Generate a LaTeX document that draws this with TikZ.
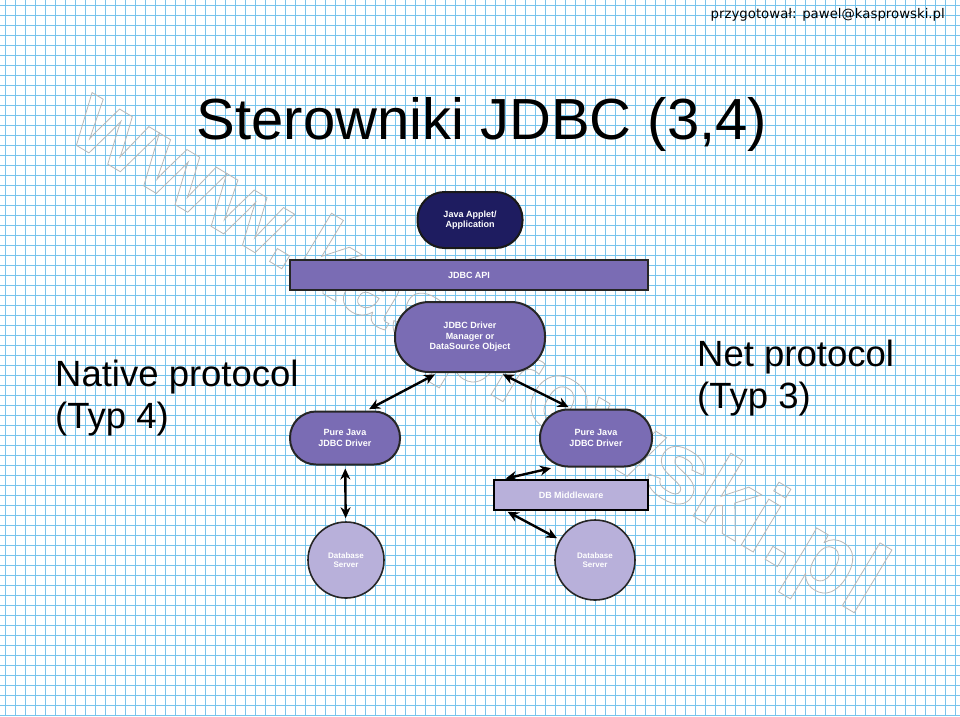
\documentclass[tikz,border=0pt]{standalone}
\usepackage{fontspec}
\setmainfont{Liberation Sans}
\newfontfamily\hdrfont{DejaVu Sans}
\usetikzlibrary{arrows.meta,positioning}

\definecolor{gridblue}{RGB}{120,196,236}
\definecolor{navyapp}{RGB}{30,28,96}
\definecolor{midpurple}{RGB}{122,108,180}
\definecolor{lightpurple}{RGB}{184,176,218}

\newcommand{\outlinetext}[1]{\special{pdf:literal direct 1 Tr 0.8 w}#1\special{pdf:literal direct 0 Tr}}

\begin{document}
\begin{tikzpicture}[x=1pt,y=-1pt,
 gridline/.style={draw=gridblue,line width=0.8pt},
 pill/.style={draw=black!85,line width=2pt,fill=midpurple,align=center,
              text=white!92,font=\fontsize{9}{10.5}\selectfont\bfseries,inner sep=2pt},
 bar/.style={draw=black!85,line width=2pt,fill=midpurple,text=white!92,
             font=\fontsize{9}{10.5}\selectfont\bfseries},
 dbserver/.style={circle,draw=black!85,line width=1.6pt,fill=lightpurple,align=center,
                  text=white!95,font=\fontsize{8}{9.5}\selectfont\bfseries,inner sep=0pt},
 dbl/.style={{Stealth[length=11pt,width=10pt]}-{Stealth[length=11pt,width=10pt]},line width=2.4pt,
             shorten <=3pt,shorten >=3pt},
 bigtext/.style={font=\fontsize{36.5}{42}\selectfont,align=left,inner sep=0pt}]
\useasboundingbox (0,0) rectangle (960,716);
\fill[white] (0,0) rectangle (960,716);
% squared paper
\foreach \gx in {5.5,15.5,...,955.5} \draw[gridline] (\gx,0) -- (\gx,716);
\foreach \gy in {5.5,15.5,...,715.5} \draw[gridline] (0,\gy) -- (960,\gy);
% watermark
\node[rotate=-31,text=black!28,font=\fontsize{101}{101}\selectfont\bfseries,inner sep=0pt]
  (watermark) at (476,355) {\outlinetext{www.kasprowski.pl}};
% headings
\node[anchor=base east,font=\hdrfont\fontsize{13.3}{15}\selectfont,inner sep=0pt]
  (author) at (945,18) {przygotował: pawel@kasprowski.pl};
\node[font=\fontsize{58}{64}\selectfont,inner sep=0pt] (title) at (482,124) {Sterowniki JDBC (3,4)};
\node[bigtext,anchor=north west] (type4) at (55,360) {Native protocol\\(Typ 4)};
\node[bigtext,anchor=north west] (type3) at (697,340) {Net protocol\\(Typ 3)};
% JDBC architecture
\node[pill,fill=navyapp,draw=black!90,minimum width=105pt,minimum height=56pt,rounded corners=27pt]
  (app) at (470,220) {Java Applet/\\Application};
\node[bar,minimum width=358pt,minimum height=30pt] (api) at (469,275) {JDBC API};
\node[pill,minimum width=150pt,minimum height=70pt,rounded corners=34pt]
  (manager) at (470,337) {JDBC Driver\\Manager or\\DataSource Object};
\node[pill,minimum width=110pt,minimum height=53pt,rounded corners=26pt]
  (leftdrv) at (345,438) {Pure Java\\JDBC Driver};
\node[pill,minimum width=112pt,minimum height=57pt,rounded corners=28pt]
  (rightdrv) at (596,438) {Pure Java\\JDBC Driver};
\node[bar,fill=lightpurple,draw=black,line width=2.5pt,minimum width=154pt,minimum height=30pt]
  (middleware) at (571,495) {DB Middleware};
\node[dbserver,minimum size=76pt] (leftsrv) at (346,560) {Database\\Server};
\node[dbserver,minimum size=80pt] (rightsrv) at (595,560) {Database\\Server};
\draw[dbl] (manager.228) -- (leftdrv.52);
\draw[dbl] (manager.310) -- (rightdrv.130);
\draw[dbl] (leftdrv) -- (leftsrv);
\draw[dbl,shorten >=1pt] (rightdrv.215) -- ([xshift=12pt]middleware.north west);
\draw[dbl,shorten <=1pt] ([xshift=14pt]middleware.south west) -- (rightsrv.150);
\end{tikzpicture}
\end{document}
